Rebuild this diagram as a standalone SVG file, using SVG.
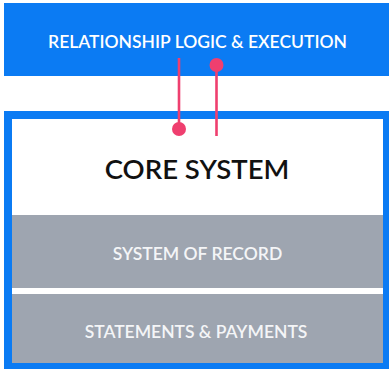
<svg xmlns="http://www.w3.org/2000/svg" width="389" height="369" viewBox="0 0 389 369">
<style>
.lbl{font-family:Lato,"Noto Sans","Liberation Sans",sans-serif;text-anchor:middle;font-weight:600}
.w{fill:#ffffff}
.g{fill:#9ea5b0}
.conn{stroke:#ef3f6f;stroke-width:2.6;fill:none}
.dot{fill:#ef3f6f}
</style>
<rect width="389" height="369" fill="#ffffff"/>
<g id="relationship-logic">
<rect x="4" y="3" width="385" height="73" fill="#0b7bf3"/>
<text class="lbl w" x="197.5" y="48" font-size="17.5">RELATIONSHIP LOGIC &amp; EXECUTION</text>
</g>
<g id="core-system">
<rect x="8" y="115" width="379" height="252" fill="#ffffff" stroke="#0b7bf3" stroke-width="8"/>
<text class="lbl" x="197" y="179" font-size="27.5" fill="#111111">CORE SYSTEM</text>
</g>
<g id="system-of-record">
<rect class="g" x="12" y="215" width="371" height="73"/>
<text class="lbl" x="197.5" y="260" font-size="17.5" fill="#f4f5f7">SYSTEM OF RECORD</text>
</g>
<g id="statements-payments">
<rect class="g" x="12" y="294" width="371" height="69"/>
<text class="lbl" x="196" y="338" font-size="17.5" fill="#f4f5f7">STATEMENTS &amp; PAYMENTS</text>
</g>
<g id="connectors">
<line class="conn" x1="179" y1="58" x2="179" y2="129"/>
<circle class="dot" cx="179" cy="129" r="7"/>
<line class="conn" x1="216.5" y1="65" x2="216.5" y2="136"/>
<circle class="dot" cx="216.5" cy="65" r="7"/>
</g>
</svg>
